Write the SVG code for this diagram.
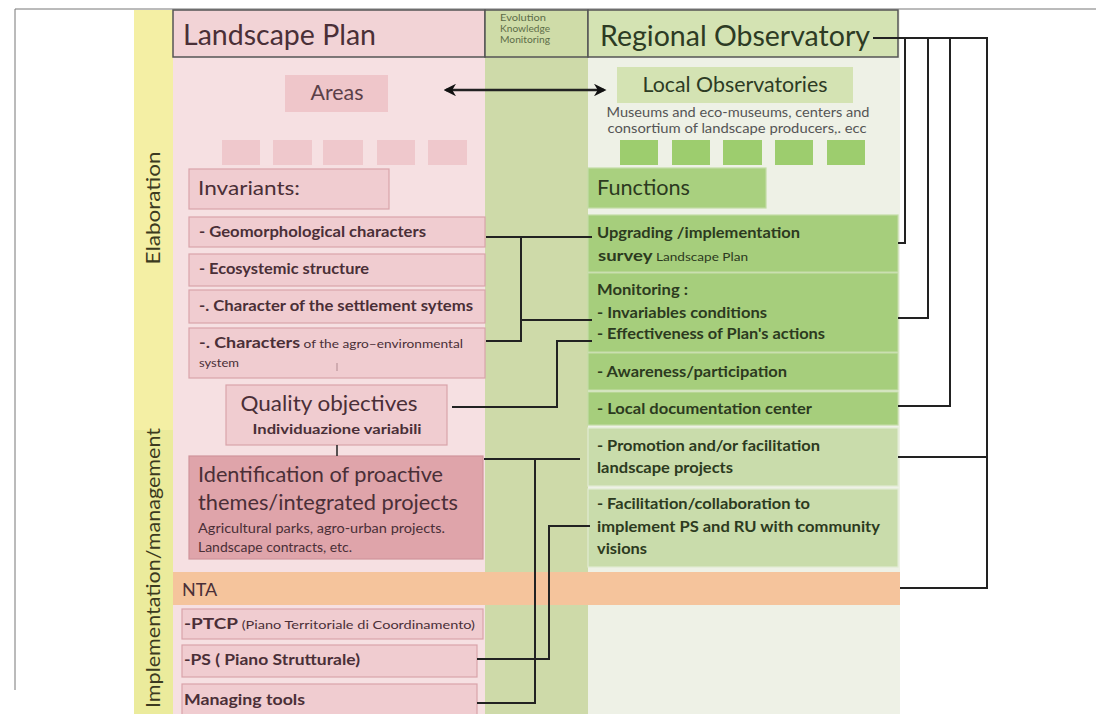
<svg xmlns="http://www.w3.org/2000/svg" width="1096" height="714" viewBox="0 0 1096 714">
<style>
text{font-family:Lato,"Open Sans","Liberation Sans",sans-serif}
.b{font-weight:700}
.pk{fill:#f0ccd0;stroke:#d9a3aa;stroke-width:1.2}
.gk{fill:#a6ce7c;stroke:#c3dca6;stroke-width:1.2}
.gl{fill:#c9dcab;stroke:#e2ebd2;stroke-width:1.2}
.tp{fill:#4a2f37}
.tg{fill:#2c3a20}
.hd{stroke:#555;stroke-width:1.5}
</style>
<defs>
<marker id="ah" viewBox="0 0 10 10" refX="8" refY="5" markerWidth="5" markerHeight="5" orient="auto-start-reverse">
<path d="M0,0 L10,5 L0,10 L3,5 z" fill="#111"/>
</marker>
</defs>
<rect width="1096" height="714" fill="#ffffff"/>
<path d="M15,690 V9 H1096" fill="none" stroke="#777" stroke-width="1"/>
<!-- backgrounds -->
<rect x="134" y="10" width="39" height="420" fill="#f4efa4"/>
<rect x="134" y="430" width="39" height="284" fill="#ebeb9c"/>
<rect x="173" y="10" width="312" height="704" fill="#f6e0e2"/>
<rect x="485" y="10" width="103" height="704" fill="#cedaa9"/>
<rect x="588" y="10" width="312" height="704" fill="#eef1e6"/>
<g id="side-labels">
<text transform="translate(160,208) rotate(-90)" text-anchor="middle" font-size="20" fill="#3c3a20" textLength="113" lengthAdjust="spacingAndGlyphs">Elaboration</text>
<text transform="translate(160,428) rotate(-90)" text-anchor="end" font-size="20" fill="#3c3a20" textLength="280" lengthAdjust="spacingAndGlyphs">Implementation/management</text>
</g>
<g id="landscape-plan">
<rect x="173" y="10" width="312" height="47" fill="#f2d3d6" class="hd"/>
<text x="183" y="45" font-size="28" class="tp" textLength="193" lengthAdjust="spacingAndGlyphs">Landscape Plan</text>
</g>
<g id="evolution">
<rect x="485" y="10" width="103" height="47" fill="#cfdca8" class="hd"/>
<text x="500" y="21" font-size="8.5" fill="#5d6d48" textLength="46" lengthAdjust="spacingAndGlyphs">Evolution</text>
<text x="500" y="32" font-size="8.5" fill="#5d6d48" textLength="50" lengthAdjust="spacingAndGlyphs">Knowledge</text>
<text x="500" y="43" font-size="8.5" fill="#5d6d48" textLength="50" lengthAdjust="spacingAndGlyphs">Monitoring</text>
</g>
<g id="regional-observatory">
<rect x="588" y="10" width="310" height="47" fill="#d4e3b3" class="hd"/>
<text x="600" y="46" font-size="28" fill="#2d3b24" textLength="270" lengthAdjust="spacingAndGlyphs">Regional Observatory</text>
</g>
<g id="areas">
<rect x="285" y="75" width="103" height="37" fill="#efc6ca"/>
<text x="337" y="100" font-size="21" text-anchor="middle" fill="#5a4048" textLength="53" lengthAdjust="spacingAndGlyphs">Areas</text>
</g>
<g id="area-boxes" fill="#efc8cc">
<rect x="222" y="140" width="38" height="25"/>
<rect x="273" y="140" width="39" height="25"/>
<rect x="323" y="140" width="40" height="25"/>
<rect x="377" y="140" width="38" height="25"/>
<rect x="428" y="140" width="39" height="25"/>
</g>
<g id="local-observatories">
<rect x="617" y="67" width="236" height="36" fill="#d4e3b3"/>
<text x="735" y="92" font-size="21" text-anchor="middle" fill="#2d3b24" textLength="185" lengthAdjust="spacingAndGlyphs">Local Observatories</text>
<text x="738" y="117" font-size="13" text-anchor="middle" fill="#555" textLength="263" lengthAdjust="spacingAndGlyphs">Museums and eco-museums, centers and</text>
<text x="737" y="133" font-size="13" text-anchor="middle" fill="#555" textLength="259" lengthAdjust="spacingAndGlyphs">consortium of landscape producers,. ecc</text>
</g>
<g id="obs-boxes" fill="#9dcd6e">
<rect x="620" y="140" width="38" height="25"/>
<rect x="672" y="140" width="38" height="25"/>
<rect x="723" y="140" width="39" height="25"/>
<rect x="775" y="140" width="38" height="25"/>
<rect x="827" y="140" width="38" height="25"/>
</g>
<g id="invariants">
<rect x="189" y="169" width="200" height="40" class="pk"/>
<text x="198" y="195" font-size="20" class="tp" textLength="102" lengthAdjust="spacingAndGlyphs">Invariants:</text>
</g>
<g id="geomorph">
<rect x="189" y="217" width="296" height="30" class="pk"/>
<text x="199" y="237" font-size="15" class="tp b" textLength="227" lengthAdjust="spacingAndGlyphs">- Geomorphological characters</text>
</g>
<g id="ecosystemic">
<rect x="189" y="254" width="296" height="32" class="pk"/>
<text x="199" y="274" font-size="15" class="tp b" textLength="170" lengthAdjust="spacingAndGlyphs">- Ecosystemic structure</text>
</g>
<g id="settlement">
<rect x="189" y="290" width="296" height="33" class="pk"/>
<text x="199" y="311" font-size="15" class="tp b" textLength="274" lengthAdjust="spacingAndGlyphs">-. Character of the settlement sytems</text>
</g>
<g id="agro">
<rect x="189" y="328" width="296" height="50" class="pk"/>
<text x="199" y="348" font-size="15" class="tp" textLength="264" lengthAdjust="spacingAndGlyphs"><tspan class="b">-. Characters</tspan><tspan font-size="11.5"> of the agro–environmental</tspan></text>
<text x="199" y="367" font-size="11" class="tp" textLength="40" lengthAdjust="spacingAndGlyphs">system</text>
<line x1="337" y1="363" x2="337" y2="371" stroke="#b08a90" stroke-width="1"/>
</g>
<g id="quality">
<rect x="226" y="385" width="221" height="60" class="pk"/>
<text x="329" y="411" font-size="21" text-anchor="middle" class="tp" textLength="177" lengthAdjust="spacingAndGlyphs">Quality objectives</text>
<text x="337" y="434" font-size="14" text-anchor="middle" class="tp b" textLength="169" lengthAdjust="spacingAndGlyphs">Individuazione variabili</text>
</g>
<g id="identification">
<rect x="189" y="456" width="294" height="103" fill="#dfa4aa" stroke="#d0949b" stroke-width="1.2"/>
<text x="198" y="482" font-size="22" class="tp" textLength="245" lengthAdjust="spacingAndGlyphs">Identification of proactive</text>
<text x="198" y="510" font-size="22" class="tp" textLength="260" lengthAdjust="spacingAndGlyphs">themes/integrated projects</text>
<text x="198" y="533" font-size="13" class="tp" textLength="247" lengthAdjust="spacingAndGlyphs">Agricultural parks, agro-urban projects.</text>
<text x="198" y="552" font-size="13" class="tp" textLength="154" lengthAdjust="spacingAndGlyphs">Landscape contracts, etc.</text>
</g>
<g id="functions">
<rect x="588" y="168" width="178" height="40" fill="#a9d07f" stroke="#c3dca6" stroke-width="1.2"/>
<text x="597" y="195" font-size="21" class="tg" textLength="93" lengthAdjust="spacingAndGlyphs">Functions</text>
</g>
<g id="upgrading">
<rect x="588" y="215" width="310" height="57" class="gk"/>
<text x="597" y="238" font-size="15" class="tg b" textLength="203" lengthAdjust="spacingAndGlyphs">Upgrading /implementation</text>
<text x="598" y="261" font-size="15" class="tg" textLength="150" lengthAdjust="spacingAndGlyphs"><tspan class="b">survey</tspan><tspan font-size="11"> Landscape Plan</tspan></text>
</g>
<g id="monitoring">
<rect x="588" y="273" width="310" height="79" class="gk"/>
<text x="597" y="295" font-size="15" class="tg b" textLength="91" lengthAdjust="spacingAndGlyphs">Monitoring :</text>
<text x="597" y="318" font-size="15" class="tg b" textLength="170" lengthAdjust="spacingAndGlyphs">- Invariables conditions</text>
<text x="597" y="339" font-size="15" class="tg b" textLength="228" lengthAdjust="spacingAndGlyphs">- Effectiveness of Plan's actions</text>
</g>
<g id="awareness">
<rect x="588" y="353" width="310" height="37" class="gk"/>
<text x="597" y="377" font-size="15" class="tg b" textLength="190" lengthAdjust="spacingAndGlyphs">- Awareness/participation</text>
</g>
<g id="local-doc">
<rect x="588" y="392" width="310" height="33" class="gk"/>
<text x="597" y="414" font-size="15" class="tg b" textLength="215" lengthAdjust="spacingAndGlyphs">- Local documentation center</text>
</g>
<g id="promotion">
<rect x="588" y="428" width="310" height="58" class="gl"/>
<text x="597" y="451" font-size="15" class="tg b" textLength="223" lengthAdjust="spacingAndGlyphs">- Promotion and/or facilitation</text>
<text x="597" y="473" font-size="15" class="tg b" textLength="136" lengthAdjust="spacingAndGlyphs">landscape projects</text>
</g>
<g id="facilitation">
<rect x="588" y="489" width="310" height="78" class="gl"/>
<text x="597" y="509" font-size="15" class="tg b" textLength="213" lengthAdjust="spacingAndGlyphs">- Facilitation/collaboration to</text>
<text x="597" y="532" font-size="15" class="tg b" textLength="283" lengthAdjust="spacingAndGlyphs">implement PS and RU with community</text>
<text x="597" y="554" font-size="15" class="tg b" textLength="50" lengthAdjust="spacingAndGlyphs">visions</text>
</g>
<g id="nta">
<rect x="173" y="572" width="727" height="33" fill="#f5c49c"/>
<text x="182" y="596" font-size="18" class="tp">NTA</text>
</g>
<g id="ptcp">
<rect x="182" y="609" width="301" height="30" class="pk"/>
<text x="184" y="629" font-size="15" class="tp" textLength="291" lengthAdjust="spacingAndGlyphs"><tspan class="b">-PTCP</tspan><tspan font-size="11.5"> (Piano Territoriale di Coordinamento)</tspan></text>
</g>
<g id="ps">
<rect x="182" y="645" width="295" height="32" class="pk"/>
<text x="184" y="665" font-size="15" class="tp b" textLength="176" lengthAdjust="spacingAndGlyphs">-PS ( Piano Strutturale)</text>
</g>
<g id="managing">
<rect x="182" y="684" width="295" height="40" class="pk"/>
<text x="184" y="705" font-size="15" class="tp b" textLength="121" lengthAdjust="spacingAndGlyphs">Managing tools</text>
</g>
<g id="connectors" fill="none" stroke="#222" stroke-width="2">
<path d="M873,38 H987 V588 H900"/>
<path d="M905,38 V243 H898"/>
<path d="M928,38 V318 H898"/>
<path d="M950,38 V406 H898"/>
<path d="M987,457 H898"/>
<path d="M486,237 H592"/>
<path d="M486,341 H521 V237"/>
<path d="M521,320 H592"/>
<path d="M452,407 H557 V341 H592"/>
<path d="M337,445 V456" stroke-width="1.5"/>
<path d="M484,459 H580"/>
<path d="M535,459 V703 H477"/>
<path d="M590,526 H549 V659 H477"/>
<path d="M446,90 H604" marker-start="url(#ah)" marker-end="url(#ah)" stroke-width="2.5"/>
</g>
</svg>
